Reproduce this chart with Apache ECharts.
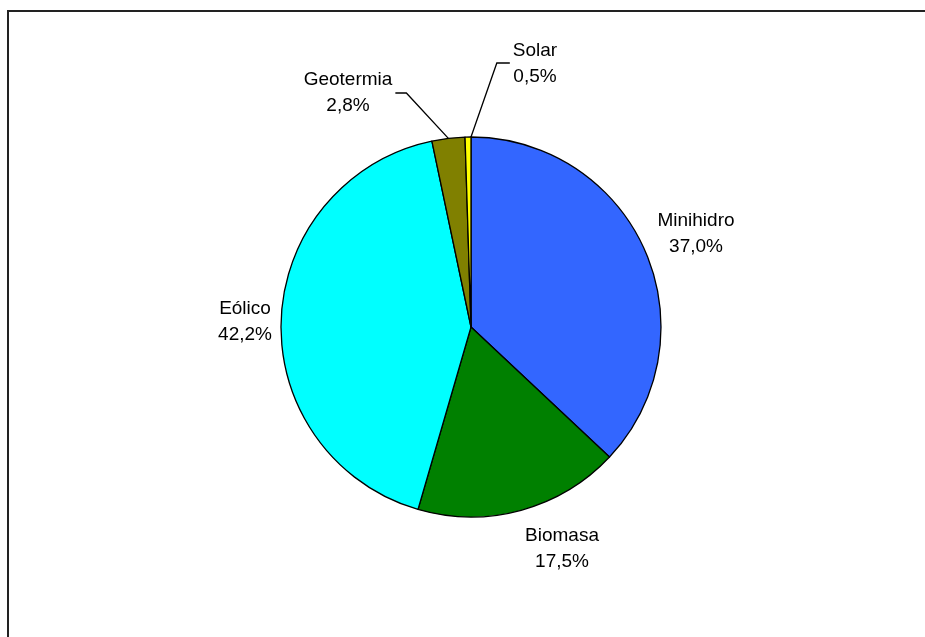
<!DOCTYPE html>
<html>
<head>
<meta charset="utf-8">
<script src="https://cdn.jsdelivr.net/npm/echarts@6/dist/echarts.min.js"></script>
<style>
html,body{margin:0;padding:0;background:#fff;}
#chart{width:925px;height:637px;}
</style>
</head>
<body>
<div id="chart"></div>
<script>
// Data
const categories = ['Minihidro', 'Biomasa', 'Eólico', 'Geotermia', 'Solar'];
const shares = [37.0, 17.5, 42.2, 2.8, 0.5];

// Styles / layout (kept separate from data)
const colors = ['#3366FF', '#008000', '#00FFFF', '#808000', '#FFFF00'];
const cx = 471, cy = 327, R = 190;
const labelAnchors = [[696, 234], [562, 549], [245, 322], [348, 93], [535, 64]];
const withLeader = [false, false, false, true, true];

const total = shares.reduce((a, b) => a + b, 0);
const midAngles = [];
let acc = 0;
shares.forEach(v => { midAngles.push((acc + v / 2) / total * 2 * Math.PI); acc += v; });

const chart = echarts.init(document.getElementById('chart'), null, {renderer: 'canvas'});
chart.setOption({
  animation: false,
  backgroundColor: '#fff',
  textStyle: {fontFamily: 'Liberation Sans, Arial, sans-serif'},
  graphic: [{
    type: 'rect',
    shape: {x: 8, y: 11, width: 1000, height: 1000},
    style: {fill: 'none', stroke: '#222', lineWidth: 2},
    silent: true
  }],
  series: [{
    type: 'pie',
    center: [cx, cy],
    radius: R,
    startAngle: 90,
    clockwise: true,
    avoidLabelOverlap: false,
    itemStyle: {borderColor: '#000', borderWidth: 1.3},
    emphasis: {disabled: true},
    label: {
      show: true,
      position: 'outside',
      color: '#000',
      fontSize: 19,
      lineHeight: 26,
      fontFamily: 'Liberation Sans, Arial, sans-serif',
      align: 'center',
      formatter: p => p.name + '\n' + p.value.toFixed(1).replace('.', ',') + '%'
    },
    labelLine: {show: true, lineStyle: {color: '#000', width: 1.3}, smooth: false},
    labelLayout: function (p) {
      const i = p.dataIndex;
      const a = labelAnchors[i];
      const out = {x: a[0], y: a[1], align: 'center', verticalAlign: 'middle'};
      if (withLeader[i]) {
        const w = p.labelRect.width;
        const sx = cx + R * Math.sin(midAngles[i]);
        const sy = cy - R * Math.cos(midAngles[i]);
        if (sx < cx - 5) {
          const end = a[0] + w / 2 + 3;
          out.labelLinePoints = [[sx, sy], [end + 11, a[1]], [end, a[1]]];
        } else {
          const end = a[0] - w / 2 - 3;
          out.labelLinePoints = [[cx, sy], [end - 13, a[1] - 1], [end, a[1] - 1]];
        }
      }
      return out;
    },
    data: categories.map((c, i) => ({
      name: c,
      value: shares[i],
      itemStyle: {color: colors[i]},
      labelLine: {show: withLeader[i]}
    }))
  }]
});
</script>
</body>
</html>
